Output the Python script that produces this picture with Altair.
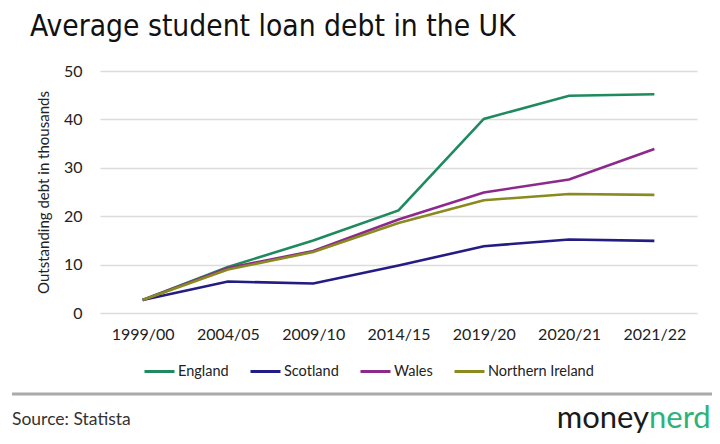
import altair as alt
import pandas as pd

years = ["1999/00", "2004/05", "2009/10", "2014/15", "2019/20", "2020/21", "2021/22"]
england = [2.7, 9.5, 15.0, 21.2, 40.1, 44.9, 45.2]
scotland = [2.7, 6.5, 6.1, 9.8, 13.8, 15.2, 14.9]
wales = [2.7, 9.3, 12.8, 19.3, 24.9, 27.6, 33.9]
nireland = [2.7, 9.0, 12.6, 18.6, 23.3, 24.6, 24.4]

series = ["England", "Scotland", "Wales", "Northern Ireland"]
colors = ["#1e8a5e", "#221c84", "#8c2a8c", "#8a8a1e"]

rows = []
for name, vals in zip(series, [england, scotland, wales, nireland]):
    for y, v in zip(years, vals):
        rows.append({"year": y, "region": name, "debt": v})
df = pd.DataFrame(rows)
one = pd.DataFrame({"k": [0]})

FONT = "Lato"
TFONT = "DejaVu Sans Condensed, Lato"
W, H = 597, 242

lines = alt.Chart(df).mark_line(strokeWidth=2.6).encode(
    x=alt.X("year:N", sort=years, scale=alt.Scale(type="point", padding=0.5),
            axis=alt.Axis(title=None, labelAngle=0, domain=False, ticks=False,
                          labelFontSize=16, labelColor="#222", labelPadding=13,
                          labelFont=FONT)),
    y=alt.Y("debt:Q", scale=alt.Scale(domain=[0, 50]),
            axis=alt.Axis(title="Outstanding debt in thousands", values=[0, 10, 20, 30, 40, 50],
                          domain=False, ticks=False, labelFontSize=16, labelColor="#222",
                          labelPadding=18, titleFontSize=15, titleFont=FONT,
                          titleFontWeight="normal", titleColor="#222", titlePadding=12,
                          labelFont=FONT, gridColor="#dcdcdc", gridWidth=1.3)),
    color=alt.Color("region:N", sort=series,
                    scale=alt.Scale(domain=series, range=colors),
                    legend=alt.Legend(title=None, orient="none", direction="horizontal",
                                      legendX=43, legendY=284, symbolType="stroke",
                                      symbolSize=900, symbolStrokeWidth=3,
                                      labelFontSize=14.5, labelFont=FONT, labelColor="#222",
                                      columnPadding=15, labelOffset=2)),
)

title = alt.Chart(one).mark_text(align="left", baseline="alphabetic", fontSize=29.7,
                                 font=TFONT, color="#111").encode(
    x=alt.value(-70), y=alt.value(-35), text=alt.value("Average student loan debt in the UK")
)
footer_line = alt.Chart(one).mark_rule(color="#aaaaaa", strokeWidth=3).encode(
    x=alt.value(-88), x2=alt.value(W + 23), y=alt.value(H + 81)
)
source = alt.Chart(one).mark_text(align="left", baseline="alphabetic", fontSize=17.5,
                                  font=FONT, color="#333").encode(
    x=alt.value(-88), y=alt.value(H + 112), text=alt.value("Source: Statista")
)
logo1 = alt.Chart(one).mark_text(align="right", baseline="alphabetic", fontSize=31,
                                 font=FONT, color="#1a1a1a").encode(
    x=alt.value(W - 48), y=alt.value(H + 115), text=alt.value("money")
)
logo2 = alt.Chart(one).mark_text(align="left", baseline="alphabetic", fontSize=31,
                                 font=FONT, color="#2bb37a").encode(
    x=alt.value(W - 48), y=alt.value(H + 115), text=alt.value("nerd")
)

chart = alt.layer(lines, title, footer_line, source, logo1, logo2).properties(
    width=W, height=H,
    autosize=alt.AutoSizeParams(type="none"),
    padding={"left": 92, "top": 63, "right": 15, "bottom": 121},
).configure_view(stroke=None)

chart.save("out.html", embed_options={"renderer": "svg", "actions": False})
